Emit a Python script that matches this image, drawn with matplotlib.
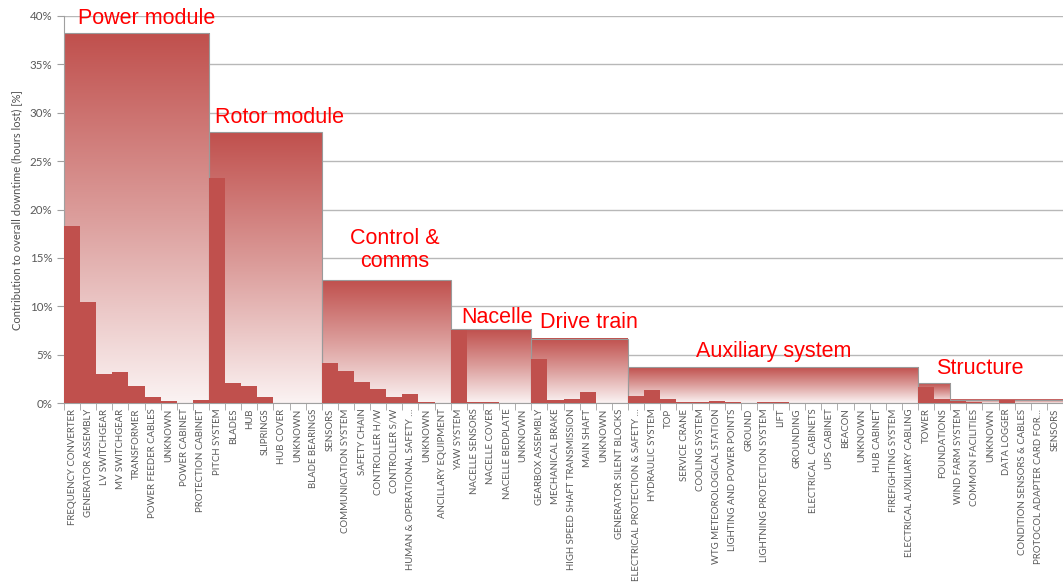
import matplotlib.pyplot as plt
import numpy as np
from matplotlib.colors import LinearSegmentedColormap

# component names, grouped by module
power_names = ['FREQUENCY CONVERTER', 'GENERATOR ASSEMBLY', 'LV SWITCHGEAR', 'MV SWITCHGEAR',
               'TRANSFORMER', 'POWER FEEDER CABLES', 'UNKNOWN', 'POWER CABINET', 'PROTECTION CABINET']
rotor_names = ['PITCH SYSTEM', 'BLADES', 'HUB', 'SLIPRINGS', 'HUB COVER', 'UNKNOWN', 'BLADE BEARINGS']
control_names = ['SENSORS', 'COMMUNICATION SYSTEM', 'SAFETY CHAIN', 'CONTROLLER H/W', 'CONTROLLER S/W',
                 'HUMAN & OPERATIONAL SAFETY …', 'UNKNOWN', 'ANCILLARY EQUIPMENT']
nacelle_names = ['YAW SYSTEM', 'NACELLE SENSORS', 'NACELLE COVER', 'NACELLE BEDPLATE', 'UNKNOWN']
drive_names = ['GEARBOX ASSEMBLY', 'MECHANICAL BRAKE', 'HIGH SPEED SHAFT TRANSMISSION', 'MAIN SHAFT',
               'UNKNOWN', 'GENERATOR SILENT BLOCKS']
aux_names = ['ELECTRICAL PROTECTION & SAFETY …', 'HYDRAULIC SYSTEM', 'TOP', 'SERVICE CRANE', 'COOLING SYSTEM',
             'WTG METEOROLOGICAL STATION', 'LIGHTING AND POWER POINTS', 'GROUND', 'LIGHTNING PROTECTION SYSTEM',
             'LIFT', 'GROUNDING', 'ELECTRICAL  CABINETS', 'UPS CABINET', 'BEACON', 'UNKNOWN', 'HUB CABINET',
             'FIREFIGHTING SYSTEM', 'ELECTRICAL AUXILIARY CABLING']
structure_names = ['TOWER', 'FOUNDATIONS']
farm_names = ['WIND FARM SYSTEM', 'COMMON FACILITIES', 'UNKNOWN', 'DATA LOGGER', 'CONDITION SENSORS & CABLES',
              'PROTOCOL ADAPTER CARD FOR…', 'SENSORS']

# contribution to downtime [%]
power_vals = [18.3, 10.45, 3.0, 3.25, 1.8, 0.65, 0.25, 0.0, 0.3]
rotor_vals = [23.3, 2.05, 1.8, 0.65, 0.0, 0.0, 0.0]
control_vals = [4.1, 3.35, 2.15, 1.4, 0.6, 0.9, 0.1, 0.0]
nacelle_vals = [7.55, 0.15, 0.08, 0.0, 0.0]
drive_vals = [4.55, 0.3, 0.38, 1.1, 0.05, 0.05]
aux_vals = [0.69, 1.34, 0.4, 0.15, 0.07, 0.2, 0.07, 0.05, 0.1, 0.07, 0.0, 0.0, 0.0, 0.0, 0.0, 0.0, 0.0, 0.0]
structure_vals = [1.65, 0.4]
farm_vals = [0.2, 0.12, 0.05, 0.3, 0.05, 0.05, 0.05]

group_labels = ['Power module', 'Rotor module', 'Control &\ncomms', 'Nacelle', 'Drive train',
                'Auxiliary system', 'Structure', '']
group_totals = [38.2, 28.0, 12.7, 7.6, 6.65, 3.68, 2.05, 0.35]

names_list = [power_names, rotor_names, control_names, nacelle_names, drive_names, aux_names,
              structure_names, farm_names]
vals_list = [power_vals, rotor_vals, control_vals, nacelle_vals, drive_vals, aux_vals,
             structure_vals, farm_vals]

# where the module names sit (category index, %)
label_x = [4.62, 12.88, 20.05, 26.38, 32.1, 43.57, 56.36, 0]
label_y = [39.7, 29.46, 15.8, 8.8, 8.27, 5.37, 3.6, 0]

names = sum(names_list, [])
vals = np.array(sum(vals_list, []))
x = np.arange(len(names))

red = '#C0504D'
grad = LinearSegmentedColormap.from_list('g', ['#FBF3F3', '#DC9E9C', '#C0504D'])

fig = plt.figure(figsize=(10.63, 5.86), dpi=100)
ax = fig.add_axes([64 / 1063, 183 / 586, 999 / 1063, 387 / 586])

ax.set_xlim(-0.5, len(names) - 0.5)
ax.set_ylim(0, 40)

# background gradient bars for each module
start = 0
for tot, nm in zip(group_totals, names_list):
    x0 = start - 0.5
    x1 = start + len(nm) - 0.5
    g = np.linspace(0, 1, 256).reshape(-1, 1)
    ax.imshow(g, extent=(x0, x1, 0, tot), origin='lower', aspect='auto', cmap=grad, zorder=1,
              interpolation='bilinear')
    ax.bar((x0 + x1) / 2, tot, width=x1 - x0, facecolor='none', edgecolor='#9a9a9a', linewidth=0.8, zorder=2)
    start += len(nm)

ax.bar(x, vals, width=1.0, color=red, zorder=3, linewidth=0)

for lab, lx, ly in zip(group_labels, label_x, label_y):
    if lab:
        ax.text(lx, ly, lab, color='red', fontsize=15.5, ha='center', va='center',
                family='Liberation Sans', zorder=5, linespacing=1.1)

ax.set_yticks(np.arange(0, 41, 5))
ax.set_yticklabels(['%d%%' % v for v in range(0, 41, 5)], fontsize=8.3, color='#595959', family='Lato')
ax.yaxis.grid(True, color='#b8b8b8', linewidth=1)
ax.set_axisbelow(True)

ax.set_xticks(x)
ax.set_xticklabels(names, rotation=90, fontsize=6.95, color='#595959', family='Lato')
ax.set_xticks(np.arange(-0.5, len(names), 1), minor=True)
ax.tick_params(axis='x', which='major', length=0, pad=4)
ax.tick_params(axis='x', which='minor', length=5, color='#a0a0a0')
ax.tick_params(axis='y', length=5, color='#a0a0a0')

for s in ['top', 'right']:
    ax.spines[s].set_visible(False)
ax.spines['left'].set_color('#a0a0a0')
ax.spines['bottom'].set_color('#a0a0a0')

fig.text(17 / 1063, 1 - 210 / 586, 'Contribution to overall downtime (hours lost) [%]', rotation=90,
         ha='center', va='center', fontsize=8, color='#505050', family='Lato')

plt.savefig('out.png', dpi=100)
